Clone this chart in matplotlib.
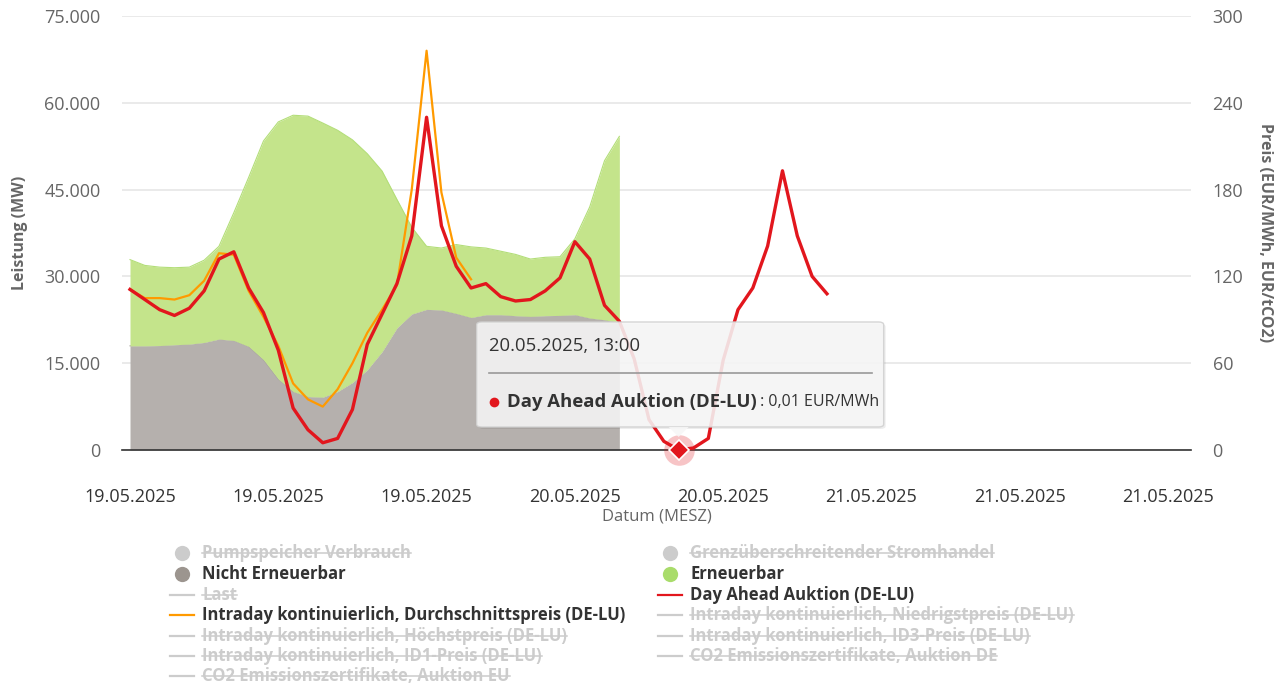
import matplotlib
matplotlib.use("Agg")
import matplotlib.pyplot as plt
import matplotlib.dates as mdates
from matplotlib.patches import FancyBboxPatch, Polygon
from matplotlib.lines import Line2D
from matplotlib.ticker import FuncFormatter
import pandas as pd

plt.rcParams['font.family'] = ['Open Sans', 'DejaVu Sans']

# ---- data (hourly, starting 19.05.2025 00:00 MESZ) ----
start = pd.Timestamp('2025-05-19 00:00')

# stacked generation (MW): top of "Nicht Erneuerbar" and total incl. "Erneuerbar"
nicht_erneuerbar = [18000, 18000, 18050, 18190, 18300, 18590, 19170, 18930, 17900, 15600,
                    12250, 10100, 9230, 9130, 10100, 11660, 13860, 17000, 21100, 23500,
                    24300, 24200, 23600, 22900, 23380, 23380, 23210, 23090, 23210, 23260,
                    23380, 22810, 22500, 22000]
gesamt = [32900, 31900, 31600, 31500, 31600, 32800, 35200, 41000, 47100, 53400,
          56700, 57850, 57700, 56500, 55250, 53600, 51200, 48200, 43300, 38500,
          35200, 34900, 35500, 35100, 34900, 34350, 33800, 33000, 33300, 33400,
          36500, 42000, 50000, 54200]

# prices (EUR/MWh)
day_ahead = [111, 104, 97, 93, 98, 110, 132, 137, 112, 95,
             69, 29, 14, 5, 8, 28, 73, 94, 115, 148,
             230, 155, 127, 112, 115, 106, 103, 104, 110, 119,
             144, 132, 100, 89, 63, 21, 6, 0.01, 1.4, 8,
             62, 97, 112, 141, 193, 148, 120, 108]
intraday_avg = [111, 105, 105, 104, 107, 117, 136, 135, 110, 92,
                72, 46, 35, 30, 42, 60, 81, 97, 114, 180,
                276, 178, 133, 118]

t_gen = pd.date_range(start, periods=len(gesamt), freq='h')
t_da = pd.date_range(start, periods=len(day_ahead), freq='h')
t_id = pd.date_range(start, periods=len(intraday_avg), freq='h')
tick_times = pd.date_range(start, periods=8, freq='10h')

W, H = 1274, 686
fig = plt.figure(figsize=(W / 100, H / 100), dpi=100)
ax = fig.add_axes([122 / W, 1 - 450 / H, (1191 - 122) / W, (450 - 16) / H])
ax2 = ax.twinx()

grey_fill = '#b5b0ad'
green_fill = '#c4e48b'
red = '#e2161d'
orange = '#ff9a00'
txt_grey = '#666666'

ax.fill_between(t_gen, 0, nicht_erneuerbar, color=grey_fill, lw=0, zorder=2)
ax.plot(t_gen, nicht_erneuerbar, color='#a9a4a1', lw=0.8, zorder=2)
ax.fill_between(t_gen, nicht_erneuerbar, gesamt, color=green_fill, lw=0, zorder=2)
ax.plot(t_gen, gesamt, color='#b3de78', lw=0.8, zorder=2)

ax2.plot(t_id, intraday_avg, color=orange, lw=1.6, zorder=3)
ax2.plot(t_da, day_ahead, color=red, lw=2.4, zorder=4)

ax.set_xlim(start - pd.Timedelta(hours=0.54), start + pd.Timedelta(hours=71.55))
ax.set_ylim(0, 75000)
ax2.set_ylim(0, 300)
ax.set_yticks(range(0, 75001, 15000))
ax2.set_yticks(range(0, 301, 60))
ax.yaxis.set_major_formatter(FuncFormatter(lambda v, p: f"{int(v):,}".replace(',', '.')))
ax.set_xticks(tick_times)
ax.xaxis.set_major_formatter(mdates.DateFormatter('%d.%m.%Y'))

ax.grid(axis='y', color='#e6e6e6', lw=1.2, zorder=0)
ax.set_axisbelow(True)
for a in (ax, ax2):
    for s in a.spines.values():
        s.set_visible(False)
    a.tick_params(length=0, labelsize=13, labelcolor=txt_grey)
ax.tick_params(axis='x', labelcolor='#333333', pad=27)
ax.tick_params(axis='y', pad=15.5)
ax2.tick_params(axis='y', pad=15.5)
ax.axhline(0, color='#333333', lw=1.2, zorder=5, clip_on=False)

fig.text(20 / W, 1 - 233 / H, 'Leistung (MW)', fontsize=11.5, fontweight='bold',
         color=txt_grey, rotation=90, ha='center', va='center')
fig.text(1265 / W, 1 - 233 / H, 'Preis (EUR/MWh, EUR/tCO2)', fontsize=11.5,
         fontweight='bold', color=txt_grey, rotation=-90, ha='center', va='center')
ax.set_xlabel('Datum (MESZ)', fontsize=12, color=txt_grey, labelpad=2)

# ---- selected point + tooltip ----
sel = 37
ax2.plot(t_da[sel], day_ahead[sel], 'o', ms=22, color=red, alpha=0.25, mec='none',
         zorder=6, clip_on=False)
ax2.plot(t_da[sel], day_ahead[sel], 'D', ms=10, color=red, mec='white', mew=1.2,
         zorder=7, clip_on=False)

fig.canvas.draw()
px, py = ax2.transData.transform((mdates.date2num(t_da[sel]), day_ahead[sel]))
def f(dx, dy):
    # offset in pixels (image y downwards) relative to selected point -> figure fraction
    return ((px + dx) / W, (py - dy) / H)

x0, y0 = f(-202, -128)
x1, y1 = f(205, -23)
shadow = FancyBboxPatch((x0 + 2 / W, y1 - 2 / H), x1 - x0, y0 - y1,
                        boxstyle='round,pad=0,rounding_size=0.004', transform=fig.transFigure,
                        fc='#000000', ec='none', alpha=0.07, zorder=9)
fig.patches.append(shadow)
box = FancyBboxPatch((x0, y1), x1 - x0, y0 - y1, boxstyle='round,pad=0,rounding_size=0.004',
                     transform=fig.transFigure, fc='#f7f7f7', ec='#d0d0d0', lw=1,
                     alpha=0.88, zorder=10)
fig.patches.append(box)
tri = Polygon([f(-10, -23), f(10, -23), f(0, -13)], closed=True, transform=fig.transFigure,
              fc='#f7f7f7', ec='none', alpha=0.88, zorder=10)
fig.patches.append(tri)
fig.text(*f(-190, -104), '20.05.2025, 13:00', fontsize=13.3, color='#333333',
         va='center', ha='left', zorder=11)
fig.lines.append(Line2D([f(-190, -77)[0], f(193, -77)[0]], [f(-190, -77)[1]] * 2,
                        transform=fig.transFigure, color='#999999', lw=1.2, zorder=11))
fig.lines.append(Line2D([f(-185, -48)[0]], [f(-185, -48)[1]], transform=fig.transFigure,
                        marker='o', ms=7, color=red, mec='none', zorder=11))
tname = fig.text(*f(-172, -48), 'Day Ahead Auktion (DE-LU)', fontsize=13.3, fontweight='bold',
                 color='#333333', va='center', ha='left', zorder=11)
fig.canvas.draw()
bb = tname.get_window_extent(fig.canvas.get_renderer())
fig.text(bb.x1 / W, f(0, -48)[1], ' : 0,01 EUR/MWh', fontsize=11.5, color='#333333',
         va='center', ha='left', zorder=11)

# ---- legend (custom, two columns, hidden series struck through) ----
legend_left = [
    ('circle', '#cccccc', 'Pumpspeicher Verbrauch', False),
    ('circle', '#9c958f', 'Nicht Erneuerbar', True),
    ('line', '#cccccc', 'Last', False),
    ('line', orange, 'Intraday kontinuierlich, Durchschnittspreis (DE-LU)', True),
    ('line', '#cccccc', 'Intraday kontinuierlich, Höchstpreis (DE-LU)', False),
    ('line', '#cccccc', 'Intraday kontinuierlich, ID1-Preis (DE-LU)', False),
    ('line', '#cccccc', 'CO2 Emissionszertifikate, Auktion EU', False),
]
legend_right = [
    ('circle', '#cccccc', 'Grenzüberschreitender Stromhandel', False),
    ('circle', '#a9dc6b', 'Erneuerbar', True),
    ('line', red, 'Day Ahead Auktion (DE-LU)', True),
    ('line', '#cccccc', 'Intraday kontinuierlich, Niedrigstpreis (DE-LU)', False),
    ('line', '#cccccc', 'Intraday kontinuierlich, ID3-Preis (DE-LU)', False),
    ('line', '#cccccc', 'CO2 Emissionszertifikate, Auktion DE', False),
]
row_y = [553, 574, 595, 615, 636, 656, 676]
renderer = fig.canvas.get_renderer()
for col_x, items in ((182, legend_left), (670, legend_right)):
    for (kind, col, label, visible), yy in zip(items, row_y):
        yf = 1 - yy / H
        if kind == 'circle':
            fig.lines.append(Line2D([col_x / W], [yf], marker='o', ms=11, color=col,
                                    mec='none', transform=fig.transFigure))
        else:
            fig.lines.append(Line2D([(col_x - 12) / W, (col_x + 12) / W], [yf, yf], lw=1.6,
                                    color=col, transform=fig.transFigure))
        t = fig.text((col_x + 20) / W, yf, label, fontsize=12, fontweight='bold',
                     color='#333333' if visible else '#cccccc', va='center', ha='left')
        if not visible:
            b = t.get_window_extent(renderer)
            fig.lines.append(Line2D([b.x0 / W, b.x1 / W], [yf, yf], lw=1.1, color='#cccccc',
                                    transform=fig.transFigure))

fig.savefig('out.png', dpi=100)
